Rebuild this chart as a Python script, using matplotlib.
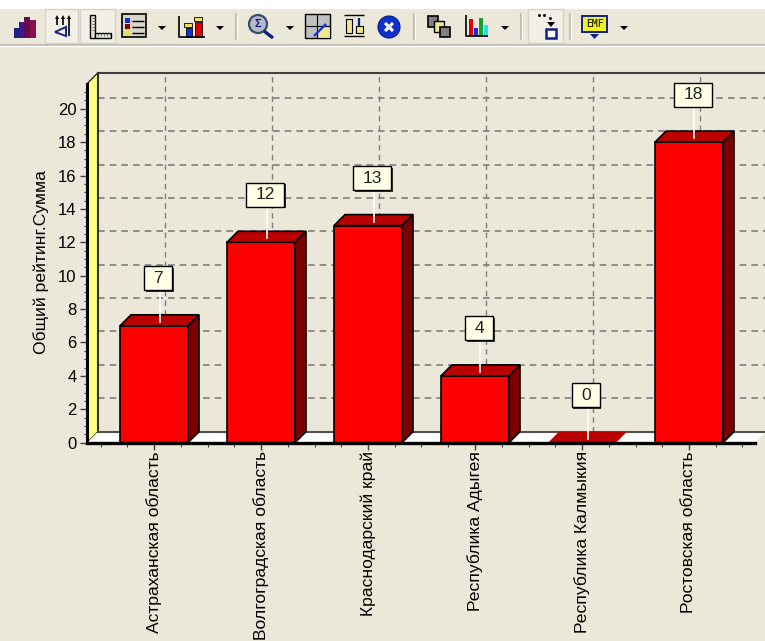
import matplotlib
matplotlib.use("Agg")
import matplotlib.pyplot as plt
from matplotlib.patches import Circle, Polygon, Rectangle

regions = [
    "Астраханская область",
    "Волгоградская область",
    "Краснодарский край",
    "Республика Адыгея",
    "Республика Калмыкия",
    "Ростовская область",
]
ratings = [7, 12, 13, 4, 0, 18]
y_ticks = list(range(0, 21, 2))
y_title = "Общий рейтинг.Сумма"

BG = "#EBE8DA"
W, H = 765, 641
X0, X1 = 87, 755
Y0, Y1 = 442.7, 83.7
STEP = 107.0
UNIT = 16.7
DX = 11 / STEP
DY = 11 / UNIT
BAR_W = 68 / STEP

plt.rcParams["font.family"] = ["Liberation Sans", "DejaVu Sans"]

fig = plt.figure(figsize=(W / 100, H / 100), dpi=100, facecolor=BG)

# toolbar layer, in pixel coordinates
tb = fig.add_axes([0, 0, 1, 1], zorder=0)
tb.set_xlim(0, W)
tb.set_ylim(H, 0)
tb.axis("off")


def rect(x, y, w, h, fc, ec="none", lw=1.0):
    tb.add_patch(Rectangle((x, y), w, h, fc=fc, ec=ec, lw=lw))


def stroke(xs, ys, color="black", lw=1.2):
    tb.plot(xs, ys, color=color, lw=lw, solid_capstyle="butt")


def dropdown(x):
    tb.add_patch(Polygon([(x - 4, 26), (x + 4, 26), (x, 30)], fc="black"))


def separator(x):
    stroke([x, x], [13, 40], "#C4C1B2", 1.5)
    stroke([x + 1.5, x + 1.5], [13, 40], "white", 0.8)


rect(0, 0, W, 9, "white")
stroke([0, W], [44.5, 44.5], "#B9B6A8", 1.2)
stroke([0, W], [46, 46], "white", 1.0)

# pressed buttons
for bx, bw in [(45, 33), (80, 35), (528, 35)]:
    rect(bx, 9, bw, 34, "#F2F0E6", "#D6D3C6", 1.0)
for sx in [236, 414, 521, 570]:
    separator(sx)
for dx in [162, 220, 290, 505, 624]:
    dropdown(dx)

# chart-type icon
for px, py, pw, ph, col in [
    (14, 28, 5, 10, "#1A237E"), (19, 22, 5, 16, "#3A1A8C"),
    (24, 17, 6, 21, "#6A0A4A"), (30, 20, 6, 18, "#8A1050"),
]:
    rect(px, py, pw, ph, col)
# axis icon
for ax_x in [57, 63, 69]:
    stroke([ax_x, ax_x], [17, 36 if ax_x == 69 else 25], "black", 1.2)
    tb.add_patch(Polygon([(ax_x - 2, 19), (ax_x + 2, 19), (ax_x, 15)], fc="black"))
tb.add_patch(Polygon([(66, 27), (66, 36), (55, 32)], fc="none", ec="#1A237E", lw=1.4))
# ruler icon
rect(90, 15, 5, 23, "#E8E6D8", "black", 1.0)
rect(95, 33, 16, 5, "#E8E6D8", "black", 1.0)
for k in range(5):
    stroke([92, 95], [18 + 3 * k, 18 + 3 * k], "#606060", 0.6)
    stroke([98 + 3 * k, 98 + 3 * k], [33, 36], "#606060", 0.6)
# legend icon
rect(122, 14, 24, 23, "#D8D5C8", "black", 1.2)
for ly, col in [(18, "#1030E0"), (24, "#8B0000"), (30, "#F0E040")]:
    rect(125, ly, 5, 5, col)
    stroke([132, 144], [ly + 2.5, ly + 2.5], "black", 1.0)
# bar icon
stroke([179, 179, 205], [16, 37, 37], "black", 1.2)
rect(186, 28, 6, 9, "#1030E0", "black", 0.6)
rect(195, 22, 7, 15, "#E00000", "black", 0.6)
rect(184, 23, 8, 4, "#F0E040", "black", 0.6)
rect(194, 17, 8, 4, "#F0E040", "black", 0.6)
# magnifier icon
tb.add_patch(Circle((258, 24), 9, fc="#B8B8C8", ec="#305070", lw=1.6))
stroke([264, 273], [31, 38], "#102080", 2.4)
tb.text(258, 24, "Σ", color="#101080", fontsize=8, ha="center", va="center", weight="bold")
# grid icon
rect(305, 14, 25, 24, "#C0C0C0", "black", 1.0)
rect(317, 26, 13, 12, "#F0E890", "black", 0.8)
stroke([317.5, 317.5], [14, 38], "black", 0.8)
stroke([305, 330], [26, 26], "black", 0.8)
stroke([314, 326], [36, 24], "#1030E0", 1.6)
# swap icon
stroke([344, 364], [15, 15], "black", 1.0)
stroke([344, 364], [36, 36], "black", 1.0)
rect(346, 19, 6, 14, "#F0E890", "black", 0.8)
rect(356, 26, 7, 7, "#F0E890", "black", 0.8)
stroke([359.5, 359.5], [18, 26], "#102080", 1.6)
# delete icon
tb.add_patch(Circle((389, 27), 11, fc="#1030D0", ec="#0A1A80", lw=0.8))
stroke([385, 393], [23, 31], "white", 2.2)
stroke([385, 393], [31, 23], "white", 2.2)
# overlap icon
rect(428, 16, 10, 11, "#808080", "black", 1.2)
rect(434, 21, 10, 11, "#F0E890", "black", 1.0)
rect(440, 27, 10, 10, "#808080", "black", 1.2)
# colored bars icon
stroke([466, 466, 488], [15, 36, 36], "black", 1.2)
for px, py, col in [(469, 19, "#E00000"), (474, 28, "#1030E0"), (479, 18, "#10A030"), (484, 25, "#20E0F0")]:
    rect(px, py, 4, 36 - py, col)
# move icon
tb.plot([539, 544, 550], [15, 15, 18], ls="none", marker="s", ms=1, color="black")
tb.add_patch(Polygon([(547, 22), (555, 22), (551, 27)], fc="black"))
rect(546, 29, 10, 9, "white", "#102080", 1.8)
# EMF icon
rect(582, 16, 25, 16, "#F0F020", "#102080", 1.4)
tb.text(594.5, 24, "EMF", fontsize=7, ha="center", va="center", color="black", family="DejaVu Sans Mono")
tb.add_patch(Polygon([(590, 34), (599, 34), (594.5, 39)], fc="#102080"))

# main chart axes
ax = fig.add_axes(
    [X0 / W, 1 - Y0 / H, (X1 - X0) / W, (Y0 - Y1) / H],
    zorder=1,
    facecolor="none",
)
ax.set_xlim(-67 / STEP, (X1 - 154) / STEP)
ax.set_ylim(0, (Y0 - Y1) / UNIT)
xl, xr = ax.get_xlim()
yt = ax.get_ylim()[1]
xr_back = xr + DX

# left wall and floor
ax.add_patch(Polygon([(xl, 0), (xl + DX, DY), (xl + DX, yt + DY), (xl, yt)],
                     fc="#FFFF80", ec="black", lw=0.8, clip_on=False, zorder=1))
ax.add_patch(Polygon([(xl, 0), (xl + DX, DY), (xr_back, DY), (xr, 0)],
                     fc="white", ec="none", clip_on=False, zorder=1))

# back wall grid
for v in y_ticks[1:]:
    ax.plot([xl + DX, xr_back], [v + DY, v + DY], color="#7F7F7F", lw=1.2,
            dashes=(4, 3), clip_on=False, zorder=1.5)
for i in range(len(regions)):
    ax.plot([i + DX, i + DX], [DY, yt + DY], color="#7F7F7F", lw=1.0,
            dashes=(4, 3), clip_on=False, zorder=1.5)
ax.plot([xl + DX, xr_back], [yt + DY, yt + DY], color="#404040", lw=1.5, clip_on=False, zorder=2)
ax.plot([xl + DX, xl + DX], [DY, yt + DY], color="#303030", lw=1.5, clip_on=False, zorder=2)
ax.plot([xl + DX, xr_back], [DY, DY], color="#505050", lw=1.5, clip_on=False, zorder=2)

# extruded bars
ax.bar(range(len(regions)), ratings, width=BAR_W, color="#FF0000",
       edgecolor="black", linewidth=1.2, zorder=3)
for i, v in enumerate(ratings):
    l, r = i - BAR_W / 2, i + BAR_W / 2
    ax.add_patch(Polygon([(l, v), (l + DX, v + DY), (r + DX, v + DY), (r, v)],
                         fc="#BB0000", ec="black" if v else "#BB0000",
                         lw=1.2 if v else 0, zorder=3))
    if v:
        ax.add_patch(Polygon([(r, 0), (r + DX, DY), (r + DX, v + DY), (r, v)],
                             fc="#7A0000", ec="black", lw=1.2, zorder=3))

# value callouts with a leader line and a hard shadow
for i, v in enumerate(ratings):
    cx = i + 4 / STEP
    cy = v + 47.5 / UNIT
    bw = (38 if v >= 10 else 28) / STEP
    bh = 24 / UNIT
    ax.plot([i + 5.5 / STEP, i + 5.5 / STEP], [v + 4 / UNIT, cy],
            color="white", lw=1.2, clip_on=False, zorder=4)
    ax.add_patch(Rectangle((cx - bw / 2 + 1.5 / STEP, cy - bh / 2 - 1.5 / UNIT), bw, bh,
                           fc="#303030", ec="none", clip_on=False, zorder=4.5))
    ax.add_patch(Rectangle((cx - bw / 2, cy - bh / 2), bw, bh,
                           fc="#FFFFE6", ec="black", lw=1.0, clip_on=False, zorder=5))
    ax.text(cx, cy, str(v), ha="center", va="center", fontsize=12.5, color="#202020",
            clip_on=False, zorder=6)

# axes furniture
for name in ["top", "right"]:
    ax.spines[name].set_visible(False)
ax.spines["left"].set_linewidth(2.2)
ax.spines["bottom"].set_linewidth(2.4)
ax.spines["left"].set_zorder(6)
ax.spines["bottom"].set_zorder(6)
ax.set_yticks(y_ticks)
ax.set_yticks([v / 2 for v in range(0, 43)], minor=True)
ax.set_xticks(range(len(regions)))
ax.set_xticklabels(regions, rotation=90, ha="center", va="top", fontsize=12.6)
ax.set_xticks([q / 4 for q in range(-2, 23)], minor=True)
ax.tick_params(axis="y", which="major", labelsize=12, length=5, width=1, color="#404040", pad=2.5)
ax.tick_params(axis="y", which="minor", length=2.5, width=0.8, color="#404040")
ax.tick_params(axis="x", which="major", length=5, width=1, color="#404040", pad=1)
ax.tick_params(axis="x", which="minor", length=3, width=0.8, color="#404040")
ax.set_ylabel(y_title, fontsize=12.6, labelpad=0)
ax.yaxis.set_label_coords((49 - X0) / (X1 - X0), (Y0 - 262) / (Y0 - Y1))

fig.savefig("out.png", dpi=100, facecolor=BG)
